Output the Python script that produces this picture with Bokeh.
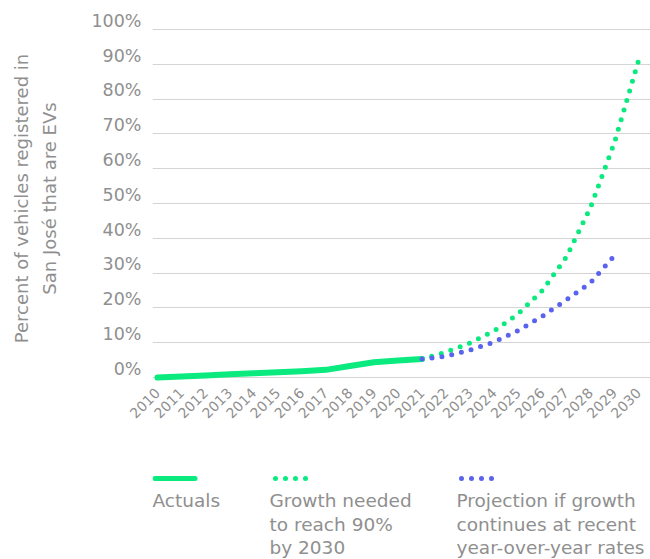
import math
from bokeh.plotting import figure
from bokeh.models import Range1d, FixedTicker, PrintfTickFormatter, LinearAxis
from bokeh.layouts import column
from bokeh.embed import file_html
from bokeh.resources import INLINE
from bokeh.core.properties import value

FONT = "DejaVu Sans"
GREEN = "#0AEA7E"
BLUE = "#5A63EE"
TEXT = "#8f8f8f"
GRID = "#d4d4d4"

# ---- data ----
years_actual = list(range(2010, 2022))
actual = [0.0, 0.3, 0.6, 0.9, 1.2, 1.5, 1.8, 2.2, 3.3, 4.4, 4.9, 5.3]

years_needed = list(range(2021, 2031))
needed = [5.3, 7.3, 9.9, 13.4, 18.3, 25.0, 34.6, 48.8, 67.5, 91.0]

years_proj = list(range(2021, 2030))
projection = [5.3, 6.1, 7.9, 10.2, 13.5, 17.6, 22.3, 27.2, 35.0]

x_ticks = list(range(2010, 2031))
y_ticks = list(range(0, 101, 10))

y_title = "Percent of vehicles registered in\nSan José that are EVs"
legend_labels = ["Actuals",
                 "Growth needed\nto reach 90%\nby 2030",
                 "Projection if growth\ncontinues at recent\nyear-over-year rates"]
legend_colors = [GREEN, GREEN, BLUE]
legend_dash = ["solid", "0 10", "0 10"]

# ---- main chart ----
Y0, Y1 = -1.15, 104.0
LABEL_LIFT = 2.5  # tick labels sit just above their gridlines

p = figure(width=650, height=448,
           x_range=Range1d(2009.792, 2030.499), y_range=Range1d(Y0, Y1),
           output_backend="svg", toolbar_location=None, y_axis_location=None,
           min_border_left=152, min_border_right=0,
           min_border_top=15, min_border_bottom=67)
p.outline_line_color = None
p.background_fill_color = "white"
p.border_fill_color = "white"
p.xgrid.visible = False
p.ygrid.ticker = FixedTicker(ticks=y_ticks)
p.ygrid.grid_line_color = GRID
p.ygrid.grid_line_width = 1

p.extra_y_ranges = {"lab": Range1d(Y0 - LABEL_LIFT, Y1 - LABEL_LIFT)}
ya = LinearAxis(y_range_name="lab")
ya.ticker = FixedTicker(ticks=y_ticks)
ya.formatter = PrintfTickFormatter(format="%d%%")
ya.axis_line_color = None
ya.major_tick_line_color = None
ya.minor_tick_line_color = None
ya.major_label_text_font = FONT
ya.major_label_text_font_size = "17.5px"
ya.major_label_text_color = TEXT
ya.major_label_standoff = 5
ya.axis_label = y_title
ya.axis_label_text_font = FONT
ya.axis_label_text_font_size = "18px"
ya.axis_label_text_font_style = "normal"
ya.axis_label_text_color = TEXT
ya.axis_label_text_line_height = 1.34
ya.axis_label_standoff = 28
p.add_layout(ya, "left")

xa = p.xaxis[0]
xa.ticker = FixedTicker(ticks=x_ticks)
xa.major_label_orientation = math.pi / 4
xa.axis_line_color = None
xa.major_tick_line_color = None
xa.minor_tick_line_color = None
xa.major_label_text_font = FONT
xa.major_label_text_font_size = "14px"
xa.major_label_text_color = TEXT
xa.major_label_standoff = 3

p.line(years_actual, actual, line_width=6, line_color=GREEN,
       line_cap="round", line_join="round")
p.line(years_needed, needed, line_width=5, line_color=GREEN,
       line_dash="0 10", line_cap="round")
p.line(years_proj, projection, line_width=5, line_color=BLUE,
       line_dash="0 10", line_cap="round")

# ---- legend (x in page pixels, y counted up from the page bottom) ----
lf = figure(width=650, height=111, x_range=Range1d(152, 650), y_range=Range1d(0, 111),
            output_backend="svg", toolbar_location=None,
            x_axis_type=None, y_axis_type=None,
            min_border_left=152, min_border_right=0, min_border_top=0, min_border_bottom=0)
lf.outline_line_color = None
lf.grid.visible = False
lf.background_fill_color = "white"
lf.border_fill_color = "white"

sample_x = [(154.5, 194.5), (275, 315), (461, 501)]
sample_y = 81
text_x = [152, 269, 456]
text_y0 = 59
line_gap = 23.5

for i, lab in enumerate(legend_labels):
    lf.line(list(sample_x[i]), [sample_y, sample_y], line_width=5,
            line_color=legend_colors[i], line_dash=legend_dash[i], line_cap="round")
    rows = lab.split("\n")
    lf.text(x=[text_x[i]] * len(rows),
            y=[text_y0 - k * line_gap for k in range(len(rows))],
            text=rows, text_font=value(FONT), text_font_size="18.5px",
            text_color=TEXT, text_baseline="alphabetic", text_align="left")

layout = column(p, lf, spacing=0)
open("out.html", "w").write(file_html(layout, INLINE))
